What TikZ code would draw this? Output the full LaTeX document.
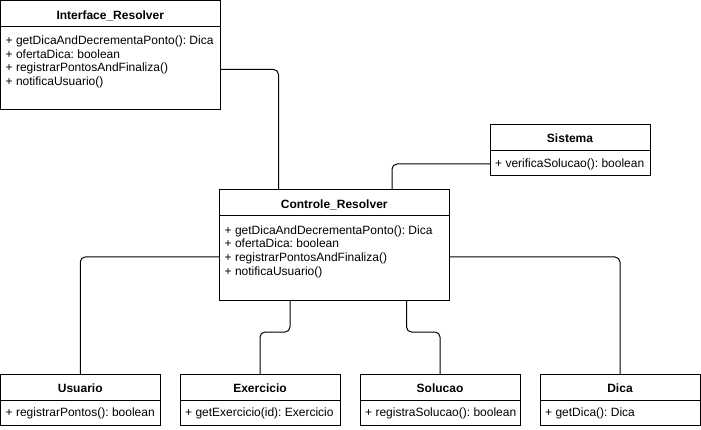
\documentclass[tikz,border=0pt]{standalone}
\usepackage{fontspec}
\setmainfont{Liberation Sans}
\frenchspacing
\begin{document}
\begin{tikzpicture}[x=1pt,y=-1pt,
  classbox/.style={draw, line width=1pt, anchor=north west, inner sep=0pt, outer sep=0pt, fill=white},
  classtitle/.style={anchor=base, inner sep=0pt, font=\fontsize{12}{14}\selectfont\bfseries},
  member/.style={anchor=base west, inner sep=0pt, font=\fontsize{12}{14}\selectfont},
  link/.style={draw, line width=1pt, rounded corners=5pt}]
\useasboundingbox (0,0) rectangle (701,430);

% class boxes: name, position, size
\node[classbox, minimum width=219.5pt, minimum height=109.5pt] (iface) at (0.5,0.5) {};
\node[classbox, minimum width=229.5pt, minimum height=110pt] (ctrl) at (219.5,190) {};
\node[classbox, minimum width=160pt, minimum height=51pt] (sys) at (490,124.5) {};
\node[classbox, minimum width=159.5pt, minimum height=51pt] (usr) at (0.5,374) {};
\node[classbox, minimum width=160pt, minimum height=51pt] (exer) at (180,374) {};
\node[classbox, minimum width=160pt, minimum height=51pt] (sol) at (360,374) {};
\node[classbox, minimum width=160pt, minimum height=51pt] (dica) at (540,374) {};

% header separators
\foreach \c in {iface,ctrl,sys,usr,exer,sol,dica}
  \draw[line width=1pt] ([yshift=-26pt]\c.north west) -- ([yshift=-26pt]\c.north east);

% titles
\node[classtitle] (iface-t) at ([yshift=-19pt]iface.north) {Interface\_Resolver};
\node[classtitle] (ctrl-t) at ([yshift=-19pt]ctrl.north) {Controle\_Resolver};
\node[classtitle] (sys-t) at ([yshift=-18pt]sys.north) {Sistema};
\node[classtitle] (usr-t) at ([yshift=-18pt]usr.north) {Usuario};
\node[classtitle] (exer-t) at ([yshift=-18pt]exer.north) {Exercicio};
\node[classtitle] (sol-t) at ([yshift=-18pt]sol.north) {Solucao};
\node[classtitle] (dica-t) at ([yshift=-18pt]dica.north) {Dica};

% operation lists
\foreach \c in {iface,ctrl}
  \foreach \t [count=\i] in {+ getDicaAndDecrementaPonto(): Dica,
                             + ofertaDica: boolean,
                             + registrarPontosAndFinaliza(),
                             + notificaUsuario()}
    \node[member] (\c-m\i) at ([xshift=5pt,yshift={-44.3pt-(\i-1)*13.6pt}]\c.north west) {\t};
\node[member] (sys-m1) at ([xshift=5pt,yshift=-42.7pt]sys.north west) {+ verificaSolucao(): boolean};
\node[member] (usr-m1) at ([xshift=5pt,yshift=-42.7pt]usr.north west) {+ registrarPontos(): boolean};
\node[member] (exer-m1) at ([xshift=5pt,yshift=-42.7pt]exer.north west) {+ getExercicio(id): Exercicio};
\node[member] (sol-m1) at ([xshift=5pt,yshift=-42.7pt]sol.north west) {+ registraSolucao(): boolean};
\node[member] (dica-m1) at ([xshift=5pt,yshift=-42.7pt]dica.north west) {+ getDica(): Dica};

% associations
\draw[link] ([yshift=-69pt]iface.north east) -| ([xshift=59pt]ctrl.north west);
\draw[link] ([xshift=172.5pt]ctrl.north west) |- ([yshift=-39.5pt]sys.north west);
\draw[link] ([yshift=-67pt]ctrl.north west) -| (usr.north);
\draw[link] ([yshift=-67pt]ctrl.north east) -| (dica.north);
\draw[link] ([xshift=70.5pt]ctrl.south west) -- ++(0,32) -| (exer.north);
\draw[link] ([xshift=187pt]ctrl.south west) -- ++(0,32) -| (sol.north);
\end{tikzpicture}
\end{document}
